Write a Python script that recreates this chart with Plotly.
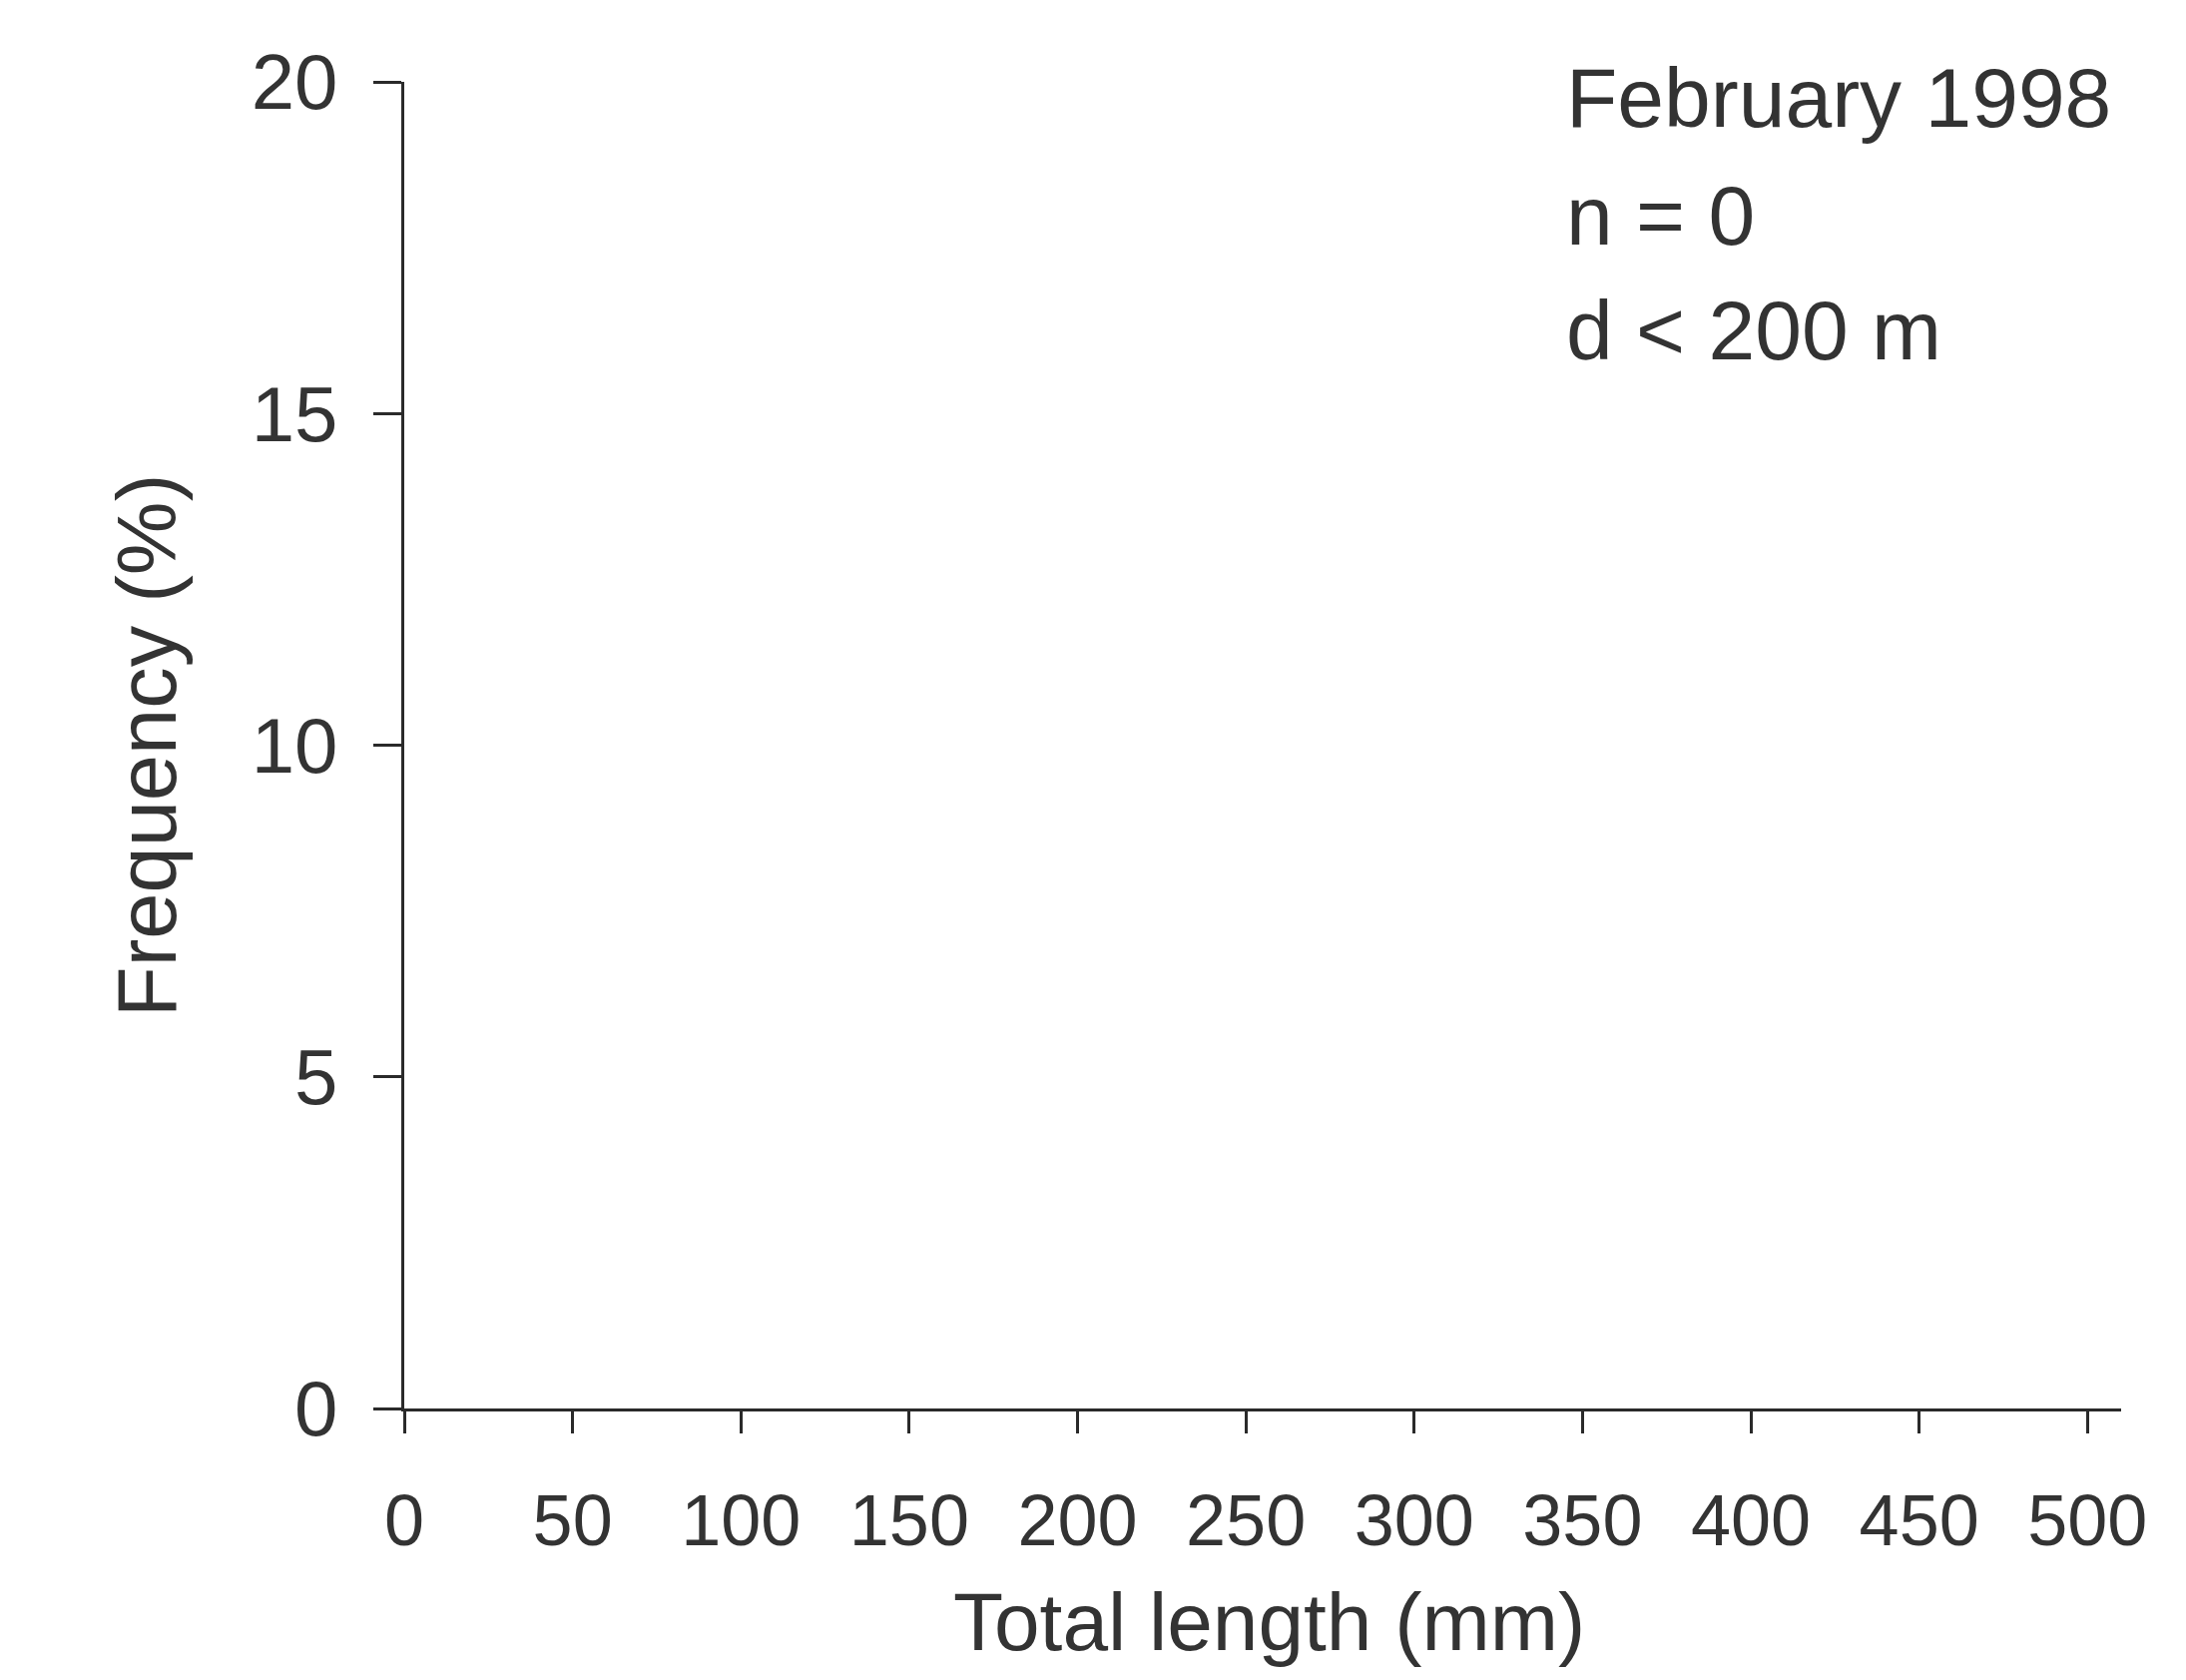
import plotly.graph_objects as go

# Data (n = 0: no fish recorded, histogram is empty)
length_bins = []          # total length class midpoints (mm)
frequency_pct = []        # frequency (%)
x_ticks = [0, 50, 100, 150, 200, 250, 300, 350, 400, 450, 500]
y_ticks = [0, 5, 10, 15, 20]
info_lines = ["February 1998", "n = 0", "d < 200 m"]

OFF = 8  # default page body margin
W, H = 2190 - 2 * OFF, 1683 - 2 * OFF
L, R, T, B = 405 - OFF, 2125 - OFF, 82 - OFF, 1411 - OFF  # plot area bounds in figure pixels
FONT = "Liberation Sans, Arial, sans-serif"
TXT = "#333333"
LINE = "#2a2a2a"

def px_x(p):
    return (p - OFF - L) / (R - L)

def px_y(p):
    return (B - (p - OFF)) / (B - T)

fig = go.Figure()
fig.add_trace(go.Bar(x=length_bins, y=frequency_pct, marker_color="#555555", showlegend=False))

fig.update_layout(
    width=W, height=H,
    margin=dict(l=L, r=W - R, t=T, b=H - B, pad=0),
    paper_bgcolor="white", plot_bgcolor="white",
    font=dict(family=FONT, color=TXT),
    showlegend=False,
)
fig.update_xaxes(
    range=[0, 510], tickvals=x_ticks, ticktext=[str(v) for v in x_ticks],
    showgrid=False, zeroline=False, showline=True, linecolor=LINE, linewidth=3,
    ticks="outside", ticklen=22, tickwidth=3, tickcolor=LINE,
    tickfont=dict(size=72, family=FONT, color=TXT), ticklabelstandoff=26,
)
fig.update_yaxes(
    range=[0, 20], tickvals=y_ticks, ticktext=[str(v) for v in y_ticks],
    showgrid=False, zeroline=False, showline=True, linecolor=LINE, linewidth=3,
    ticks="outside", ticklen=28, tickwidth=3, tickcolor=LINE,
    tickfont=dict(size=78, family=FONT, color=TXT), ticklabelstandoff=20,
)

ann = []
ann.append(dict(text="Total length (mm)", x=px_x(1271), y=px_y(1624), xref="paper", yref="paper",
                xanchor="center", yanchor="middle", showarrow=False, font=dict(size=82, color=TXT)))
ann.append(dict(text="Frequency (%)", x=px_x(147), y=px_y(747), xref="paper", yref="paper",
                xanchor="center", yanchor="middle", textangle=-90, showarrow=False,
                font=dict(size=83, color=TXT)))
for line, cy in zip(info_lines, [98, 216, 331]):
    ann.append(dict(text=line, x=px_x(1567), y=px_y(cy), xref="paper", yref="paper",
                    xanchor="left", yanchor="middle", showarrow=False,
                    font=dict(size=84, color=TXT)))
fig.update_layout(annotations=ann)

fig.write_html("out.html")
